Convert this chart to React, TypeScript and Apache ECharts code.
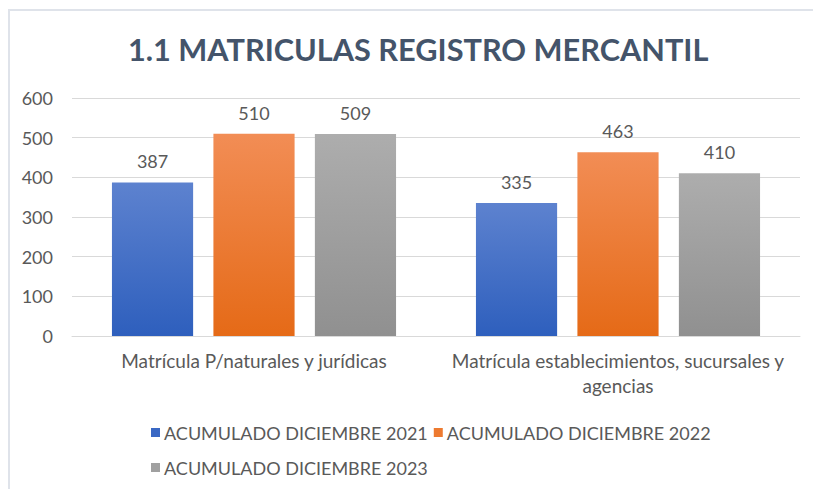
import React, { useEffect, useRef } from "react";
import * as echarts from "echarts";

const categories = [
  "Matrícula P/naturales y jurídicas",
  "Matrícula establecimientos, sucursales y\nagencias",
];
const seriesNames = [
  "ACUMULADO DICIEMBRE 2021",
  "ACUMULADO DICIEMBRE 2022",
  "ACUMULADO DICIEMBRE 2023",
];
const values2021 = [387, 335];
const values2022 = [510, 463];
const values2023 = [509, 410];
const yTicks = { min: 0, max: 600, interval: 100 };
const title = "1.1 MATRICULAS REGISTRO MERCANTIL";

const gradients = [
  ["#5d82cf", "#2e5fbd"],
  ["#f28d55", "#e56a17"],
  ["#adadad", "#909090"],
];
const legendColors = ["#3a68c4", "#ed7a30", "#a0a0a0"];

const FONT = "Lato";

export default function App() {
  const ref = useRef<HTMLDivElement>(null);
  useEffect(() => {
    if (!ref.current) return;
    const chart = echarts.init(ref.current, null, { renderer: "svg" });
    const data = [values2021, values2022, values2023];
    chart.setOption({
      animation: false,
      backgroundColor: "#ffffff",
      textStyle: { fontFamily: FONT },
      title: {
        text: title,
        left: 123,
        top: 29,
        textStyle: {
          fontFamily: FONT,
          fontSize: 30.7,
          fontWeight: "bold",
          color: "#44546a",
        },
      },
      graphic: [
        {
          type: "rect",
          shape: { x: 9, y: 10, width: 900, height: 600 },
          style: { fill: "none", stroke: "#dfe3ea", lineWidth: 2 },
          silent: true,
        },
      ],
      legend: {
        left: 146,
        top: 413,
        width: 580,
        itemWidth: 9,
        itemHeight: 9,
        itemGap: 6,
        icon: "rect",
        textStyle: {
          fontFamily: FONT,
          fontSize: 18,
          color: "#595959",
          lineHeight: 29,
          padding: [0, 0, 0, -1],
        },
        data: seriesNames.map((n, i) => ({
          name: n,
          itemStyle: { color: legendColors[i] },
        })),
      },
      grid: { left: 72, right: 13, top: 98, bottom: 153, containLabel: false },
      xAxis: {
        type: "category",
        data: categories,
        axisLine: { show: true, lineStyle: { color: "#d9d9d9", width: 1 } },
        axisTick: { show: false },
        axisLabel: {
          fontFamily: FONT,
          fontSize: 19,
          color: "#595959",
          margin: 12,
          lineHeight: 25,
          interval: 0,
        },
      },
      yAxis: {
        type: "value",
        min: yTicks.min,
        max: yTicks.max,
        interval: yTicks.interval,
        axisLine: { show: false },
        axisTick: { show: false },
        splitLine: { lineStyle: { color: "#d9d9d9", width: 1 } },
        axisLabel: {
          fontFamily: FONT,
          fontSize: 18,
          color: "#595959",
          margin: 19,
        },
      },
      series: seriesNames.map((n, i) => ({
        name: n,
        type: "bar",
        data: data[i],
        barWidth: "22.3%",
        barGap: "25%",
        itemStyle: {
          color: new echarts.graphic.LinearGradient(0, 0, 0, 1, [
            { offset: 0, color: gradients[i][0] },
            { offset: 1, color: gradients[i][1] },
          ]),
        },
        label: {
          show: true,
          position: "top",
          distance: 12,
          fontFamily: FONT,
          fontSize: 18,
          color: "#595959",
        },
      })),
    });
    return () => chart.dispose();
  }, []);
  return (
    <div
      ref={ref}
      style={{ position: "absolute", left: 0, top: 0, width: 813, height: 489 }}
    />
  );
}
